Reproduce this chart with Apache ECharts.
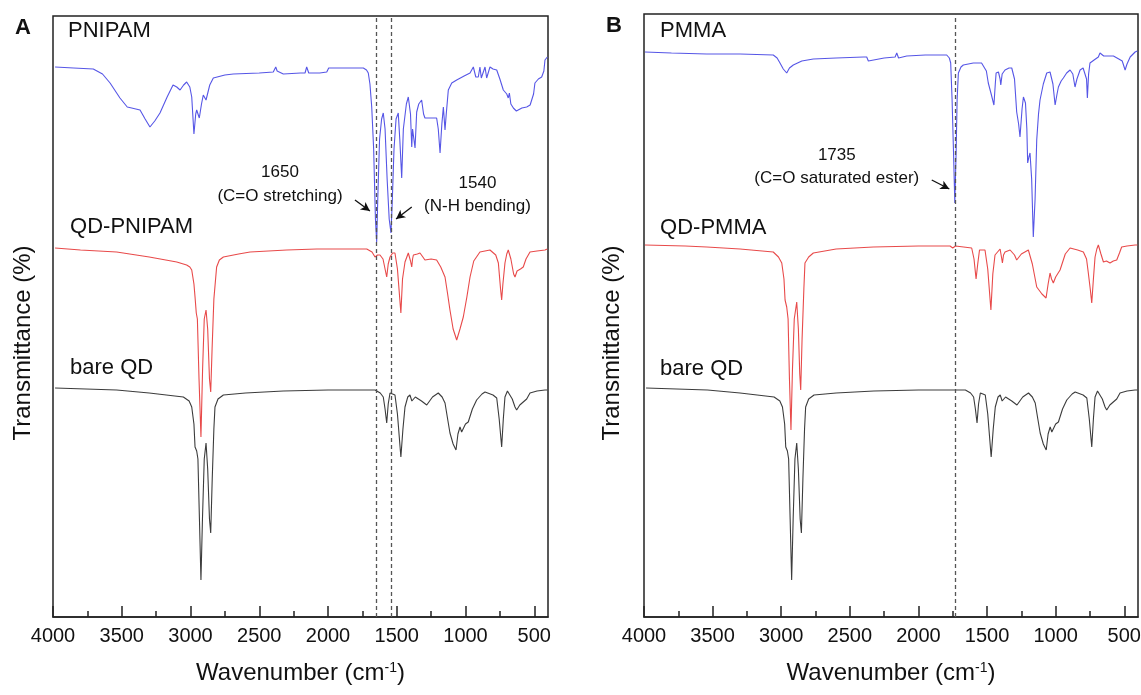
<!DOCTYPE html>
<html><head><meta charset="utf-8">
<script src="https://cdn.jsdelivr.net/npm/echarts@6/dist/echarts.min.js"></script>
<style>html,body{margin:0;padding:0;background:#fff}#c{width:1141px;height:695px}</style>
</head><body><div id="c"></div>
<script>
const FONT = 'Arial, "Liberation Sans", Helvetica, sans-serif';
// x axis ticks (wavenumber, cm-1)
const majorTicks = [4000,3500,3000,2500,2000,1500,1000,500];
const minorTicks = [3750,3250,2750,2250,1750,1250,750];
// Spectra: [wavenumber, offset transmittance (a.u.)]
const pnipam = [[3985,552],[3850,551],[3707,550],[3640,545],[3585,536],[3513,521],[3460,512],[3428,511],[3367,509],[3330,500],[3295,492],[3260,498],[3222,506],[3170,522],[3127,534],[3100,532],[3076,529],[3050,534],[3028,537],[3005,532],[2991,522],[2975,485],[2962,505],[2955,509],[2936,501],[2920,515],[2907,524],[2887,519],[2860,534],[2834,541],[2750,544],[2689,545],[2500,546],[2398,547],[2380,552],[2370,548],[2325,545],[2200,546],[2167,546],[2155,552],[2140,546],[2060,546],[2009,547],[1995,551],[1900,551],[1800,551],[1743,551],[1720,549],[1707,546],[1695,535],[1682,512],[1668,470],[1655,400],[1646,377],[1638,420],[1625,480],[1610,500],[1598,506],[1585,490],[1570,440],[1555,400],[1542,386],[1532,420],[1520,470],[1505,500],[1489,506],[1478,480],[1464,441],[1452,490],[1430,515],[1416,522],[1400,505],[1391,472],[1385,490],[1379,492],[1367,471],[1355,507],[1340,515],[1319,519],[1305,505],[1295,501],[1250,501],[1210,501],[1198,490],[1185,466],[1172,495],[1161,512],[1149,489],[1140,505],[1125,529],[1100,536],[1064,539],[1010,543],[967,546],[943,552],[925,542],[907,542],[895,552],[885,541],[875,541],[858,552],[846,541],[822,552],[800,550],[773,549],[750,540],[725,529],[700,525],[689,521],[681,526],[670,515],[652,511],[630,508],[616,508],[590,511],[555,512],[530,514],[518,514],[505,525],[495,536],[470,540],[446,542],[430,548],[422,559],[405,562]];
const qdPnipam = [[3985,371],[3800,369],[3537,367],[3300,362],[3100,357],[3028,354],[3005,352],[2991,349],[2975,335],[2967,322],[2958,306],[2950,300],[2938,240],[2924,182],[2912,250],[2900,300],[2887,309],[2875,290],[2862,240],[2853,227],[2843,270],[2830,320],[2810,352],[2790,359],[2761,362],[2650,365],[2567,367],[2300,369],[2082,370],[1900,370],[1718,370],[1680,367],[1658,362],[1640,364],[1622,364],[1600,360],[1585,350],[1573,342],[1562,355],[1549,362],[1530,366],[1513,366],[1495,350],[1470,306],[1458,340],[1440,357],[1416,366],[1400,358],[1391,352],[1385,360],[1379,364],[1350,365],[1331,366],[1310,362],[1295,359],[1250,360],[1210,359],[1180,352],[1149,342],[1130,325],[1113,309],[1090,290],[1064,279],[1040,290],[1016,302],[990,322],[967,342],[940,358],[895,367],[822,369],[780,364],[761,356],[745,330],[737,319],[728,335],[713,356],[700,365],[689,369],[670,360],[650,345],[640,342],[625,348],[616,349],[600,350],[580,352],[560,360],[531,367],[480,368],[422,369],[405,370]];
const bareQD = [[3985,231],[3537,229],[3300,226],[3052,222],[3010,218],[2991,212],[2975,195],[2967,172],[2955,168],[2946,160],[2935,100],[2924,39],[2913,100],[2900,160],[2887,176],[2875,150],[2862,100],[2853,86],[2842,140],[2830,190],[2822,212],[2800,220],[2761,224],[2600,226],[2325,228],[2000,229],[1800,229],[1658,229],[1620,226],[1598,222],[1585,210],[1573,196],[1562,215],[1549,226],[1530,225],[1513,224],[1495,205],[1470,162],[1455,190],[1440,212],[1420,222],[1404,224],[1390,218],[1379,219],[1365,222],[1355,224],[1320,218],[1282,214],[1240,222],[1198,226],[1170,222],[1149,216],[1130,200],[1113,186],[1090,175],[1069,169],[1055,185],[1040,192],[1028,187],[1016,187],[1000,195],[980,197],[950,210],[919,219],[880,225],[858,227],[800,224],[773,221],[755,200],[737,172],[725,200],[713,222],[695,228],[681,229],[660,220],[640,212],[628,209],[605,214],[580,217],[555,220],[531,226],[480,228],[422,229],[405,229]];
const pmma = [[3993,567],[3800,566],[3543,565],[3300,565],[3058,564],[3030,561],[3009,556],[2985,550],[2960,546],[2940,551],[2912,554],[2850,558],[2766,560],[2600,561],[2400,562],[2377,562],[2365,558],[2353,560],[2250,561],[2170,562],[2158,566],[2145,561],[2085,563],[1950,564],[1794,564],[1775,561],[1765,556],[1755,520],[1745,470],[1735,416],[1725,470],[1718,520],[1709,546],[1690,552],[1673,554],[1600,556],[1540,556],[1527,555],[1505,548],[1491,536],[1470,525],[1450,514],[1440,535],[1434,546],[1417,547],[1405,540],[1400,534],[1390,545],[1369,549],[1340,551],[1320,551],[1300,540],[1284,507],[1270,495],[1260,482],[1245,510],[1235,522],[1220,516],[1210,490],[1204,456],[1195,462],[1187,466],[1175,440],[1163,382],[1150,420],[1138,479],[1125,505],[1114,519],[1090,535],[1065,546],[1041,547],[1020,535],[1004,514],[990,525],[980,532],[960,538],[944,541],[920,546],[895,549],[875,545],[859,532],[845,540],[822,549],[800,551],[786,552],[775,540],[769,521],[760,545],[750,556],[720,559],[689,562],[677,566],[650,563],[579,563],[540,560],[515,558],[506,556],[494,549],[480,555],[457,562],[421,567],[405,568]];
const qdPmma = [[3993,374],[3700,373],[3543,372],[3300,370],[3058,367],[3020,362],[2996,356],[2980,340],[2972,319],[2960,312],[2950,300],[2940,240],[2929,189],[2918,250],[2905,300],[2887,317],[2875,290],[2865,245],[2858,229],[2848,280],[2835,330],[2827,356],[2800,362],[2766,366],[2600,370],[2329,372],[2000,373],[1770,373],[1750,371],[1740,369],[1730,373],[1612,371],[1595,360],[1580,340],[1568,355],[1555,369],[1515,369],[1495,350],[1472,309],[1458,345],[1442,364],[1405,370],[1395,362],[1388,356],[1380,364],[1369,367],[1332,369],[1300,364],[1284,359],[1250,365],[1199,369],[1170,355],[1138,332],[1100,325],[1070,321],[1055,335],[1041,346],[1030,340],[1017,336],[1000,342],[968,349],[930,365],[895,371],[840,369],[798,367],[775,360],[762,346],[748,330],[737,316],[725,340],[713,362],[700,370],[689,374],[670,365],[652,357],[630,358],[604,356],[580,358],[555,359],[535,366],[519,372],[480,373],[421,374],[405,374]];
// marked bands (dashed guide lines)
const markA = [1650, 1540];
const markB = [1735];
// annotation texts: [wavenumber, value, text]
const textA = [[2349,447,'1650'],[2349,423,'(C=O stretching)'],[913,436,'1540'],[913,413,'(N-H bending)']];
const textB = [[2595,464,'1735'],[2595,441,'(C=O saturated ester)']];
// arrows: [fromWn, fromV, toWn, toV]
const arrowsA = [[1804,419,1695,408],[1391,412,1505,400]];
const arrowsB = [[1903,439,1775,430]];
// series name labels: [wavenumber, value, text]
const namesA = [[3891,588,'PNIPAM'],[3876,392,'QD-PNIPAM'],[3876,251,'bare QD']];
const namesB = [[3883,588,'PMMA'],[3883,391,'QD-PMMA'],[3883,250,'bare QD']];

const BLUE = '#5656e6', RED = '#e84a4a', BLACK = '#3c3c3c';

const chart = echarts.init(document.getElementById('c'));

function xMain(gi){
  return {gridIndex:gi, type:'value', min:400, max:4000, inverse:true, position:'bottom',
    name:'Wavenumber (cm{sup|-1})', nameLocation:'middle', nameGap:44,
    nameTextStyle:{color:'#111', fontFamily:FONT, fontSize:24, rich:{sup:{fontSize:14, fontFamily:FONT, color:'#111', verticalAlign:'top', padding:[0,0,10,0]}}},
    axisLine:{show:true, lineStyle:{color:'#222', width:1.5}},
    axisTick:{show:true, inside:true, length:11, lineStyle:{color:'#222', width:1.5}, customValues:majorTicks},
    axisLabel:{show:true, margin:9, color:'#111', fontFamily:FONT, fontSize:20, customValues:majorTicks, formatter: v => String(v)},
    splitLine:{show:false}};
}
function xMinor(gi){
  return {gridIndex:gi, type:'value', min:400, max:4000, inverse:true, position:'bottom',
    axisLine:{show:false},
    axisTick:{show:true, inside:true, length:6, lineStyle:{color:'#222', width:1.5}, customValues:minorTicks},
    axisLabel:{show:false}, splitLine:{show:false}};
}
function yAx(gi, max){
  return {gridIndex:gi, type:'value', min:2, max:max, axisLine:{show:false}, axisTick:{show:false}, axisLabel:{show:false}, splitLine:{show:false}};
}
function line(name, data, color, xi, yi, extra){
  return Object.assign({name, type:'line', data, xAxisIndex:xi, yAxisIndex:yi, showSymbol:false, symbol:'none',
    silent:true, lineStyle:{color, width:1.1}, itemStyle:{color}, z:3}, extra||{});
}
function marks(vals, arrows){
  const d = vals.map(v => ({xAxis:v, lineStyle:{type:[4,3], color:'#555', width:1.3}}));
  arrows.forEach(a => d.push([
    {coord:[a[0],a[1]], symbol:'none', lineStyle:{type:'solid', color:'#111', width:1.3}},
    {coord:[a[2],a[3]], symbol:'arrow', symbolSize:[7,9]}
  ]));
  return {markLine:{silent:true, symbol:['none','none'], label:{show:false}, animation:false, data:d}};
}

const option = {
  animation:false,
  backgroundColor:'#fff',
  grid:[
    {left:53, top:16, width:495, height:601, show:true, borderColor:'#222', borderWidth:1.5, containLabel:false, outerBoundsMode:'none'},
    {left:644, top:14, width:494, height:603, show:true, borderColor:'#222', borderWidth:1.5, containLabel:false, outerBoundsMode:'none'}
  ],
  xAxis:[xMain(0), xMinor(0), xMain(1), xMinor(1)],
  yAxis:[yAx(0,603), yAx(1,605)],
  series:[
    line('bare QD', bareQD, BLACK, 0, 0),
    line('QD-PNIPAM', qdPnipam, RED, 0, 0),
    line('PNIPAM', pnipam, BLUE, 0, 0, marks(markA, arrowsA)),
    line('bare QD', bareQD, BLACK, 2, 1),
    line('QD-PMMA', qdPmma, RED, 2, 1),
    line('PMMA', pmma, BLUE, 2, 1, marks(markB, arrowsB))
  ]
};
chart.setOption(option);

function txt(gi, arr, size, align){
  return arr.map(t => {
    const p = chart.convertToPixel({gridIndex:gi}, [t[0], t[1]]);
    return {type:'text', x:p[0], y:p[1], silent:true, z:10,
      style:{text:t[2], fill:'#111', fontFamily:FONT, fontSize:size, align:align, verticalAlign:'middle', textAlign:align, textVerticalAlign:'middle'}};
  });
}
const g = [].concat(
  txt(0, textA, 17, 'center'), txt(1, textB, 17, 'center'),
  txt(0, namesA, 22, 'left'), txt(1, namesB, 22, 'left'),
  [
    {type:'text', x:23, y:28, style:{text:'A', fill:'#111', fontFamily:FONT, fontSize:22, fontWeight:'bold', align:'center', verticalAlign:'middle', textAlign:'center', textVerticalAlign:'middle'}},
    {type:'text', x:614, y:26, style:{text:'B', fill:'#111', fontFamily:FONT, fontSize:22, fontWeight:'bold', align:'center', verticalAlign:'middle', textAlign:'center', textVerticalAlign:'middle'}},
    {type:'text', x:23, y:343, rotation:Math.PI/2, style:{text:'Transmittance (%)', fill:'#111', fontFamily:FONT, fontSize:24, align:'center', verticalAlign:'middle', textAlign:'center', textVerticalAlign:'middle'}},
    {type:'text', x:612, y:343, rotation:Math.PI/2, style:{text:'Transmittance (%)', fill:'#111', fontFamily:FONT, fontSize:24, align:'center', verticalAlign:'middle', textAlign:'center', textVerticalAlign:'middle'}}
  ]
);
chart.setOption({graphic:{elements:g}});
</script></body></html>
